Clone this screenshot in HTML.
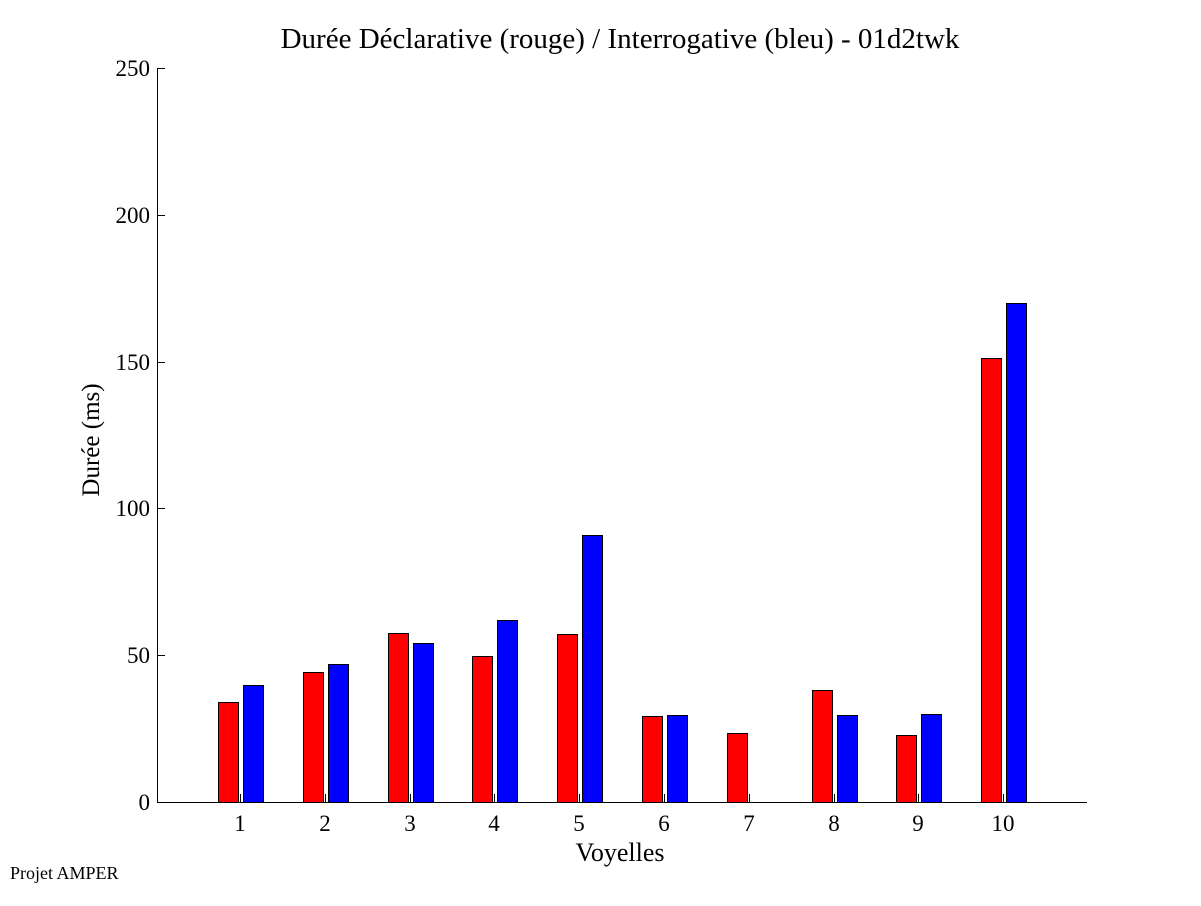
<!DOCTYPE html><html><head><style>body{margin:0;background:#fff}</style></head><body>
<svg width="1201" height="901" xmlns="http://www.w3.org/2000/svg" font-family="Liberation Serif, serif">
<rect width="1201" height="901" fill="#fff"/>
<g stroke="#000" stroke-width="1" shape-rendering="crispEdges">
<rect x="218.5" y="702.5" width="20" height="100" fill="#f00"/><rect x="243.5" y="685.5" width="20" height="117" fill="#00f"/>
<rect x="303.5" y="672.5" width="20" height="130" fill="#f00"/><rect x="328.5" y="664.5" width="20" height="138" fill="#00f"/>
<rect x="388.5" y="633.5" width="20" height="169" fill="#f00"/><rect x="413.5" y="643.5" width="20" height="159" fill="#00f"/>
<rect x="472.5" y="656.5" width="20" height="146" fill="#f00"/><rect x="497.5" y="620.5" width="20" height="182" fill="#00f"/>
<rect x="557.5" y="634.5" width="20" height="168" fill="#f00"/><rect x="582.5" y="535.5" width="20" height="267" fill="#00f"/>
<rect x="642.5" y="716.5" width="20" height="86" fill="#f00"/><rect x="667.5" y="715.5" width="20" height="87" fill="#00f"/>
<rect x="727.5" y="733.5" width="20" height="69" fill="#f00"/>
<rect x="812.5" y="690.5" width="20" height="112" fill="#f00"/><rect x="837.5" y="715.5" width="20" height="87" fill="#00f"/>
<rect x="896.5" y="735.5" width="20" height="67" fill="#f00"/><rect x="921.5" y="714.5" width="20" height="88" fill="#00f"/>
<rect x="981.5" y="358.5" width="20" height="444" fill="#f00"/><rect x="1006.5" y="303.5" width="20" height="499" fill="#00f"/>
<line x1="157.5" y1="68" x2="157.5" y2="802"/>
<line x1="157" y1="802.5" x2="1087" y2="802.5"/>
<line x1="157" y1="68.5" x2="165" y2="68.5"/>
<line x1="157" y1="215.5" x2="165" y2="215.5"/>
<line x1="157" y1="362.5" x2="165" y2="362.5"/>
<line x1="157" y1="508.5" x2="165" y2="508.5"/>
<line x1="157" y1="655.5" x2="165" y2="655.5"/>
<line x1="240.5" y1="794" x2="240.5" y2="802"/><line x1="325.5" y1="794" x2="325.5" y2="802"/>
<line x1="410.5" y1="794" x2="410.5" y2="802"/><line x1="494.5" y1="794" x2="494.5" y2="802"/>
<line x1="579.5" y1="794" x2="579.5" y2="802"/><line x1="664.5" y1="794" x2="664.5" y2="802"/>
<line x1="749.5" y1="794" x2="749.5" y2="802"/><line x1="834.5" y1="794" x2="834.5" y2="802"/>
<line x1="918.5" y1="794" x2="918.5" y2="802"/><line x1="1003.5" y1="794" x2="1003.5" y2="802"/>
</g>
<g font-size="23" text-anchor="end">
<text x="150" y="810">0</text><text x="150" y="663">50</text><text x="150" y="516">100</text><text x="150" y="370">150</text><text x="150" y="223">200</text><text x="150" y="76">250</text>
</g>
<g font-size="23" text-anchor="middle">
<text x="240" y="831">1</text><text x="325" y="831">2</text><text x="410" y="831">3</text><text x="494" y="831">4</text><text x="579" y="831">5</text><text x="664" y="831">6</text><text x="749" y="831">7</text><text x="834" y="831">8</text><text x="918" y="831">9</text><text x="1003" y="831">10</text>
</g>
<text x="620" y="48" font-size="29" text-anchor="middle">Durée Déclarative (rouge) / Interrogative (bleu) - 01d2twk</text>
<text x="620" y="861" font-size="26" text-anchor="middle">Voyelles</text>
<text transform="translate(99,440) rotate(-90)" font-size="25" text-anchor="middle">Durée (ms)</text>
<text x="10" y="879" font-size="18">Projet AMPER</text>
</svg></body></html>
